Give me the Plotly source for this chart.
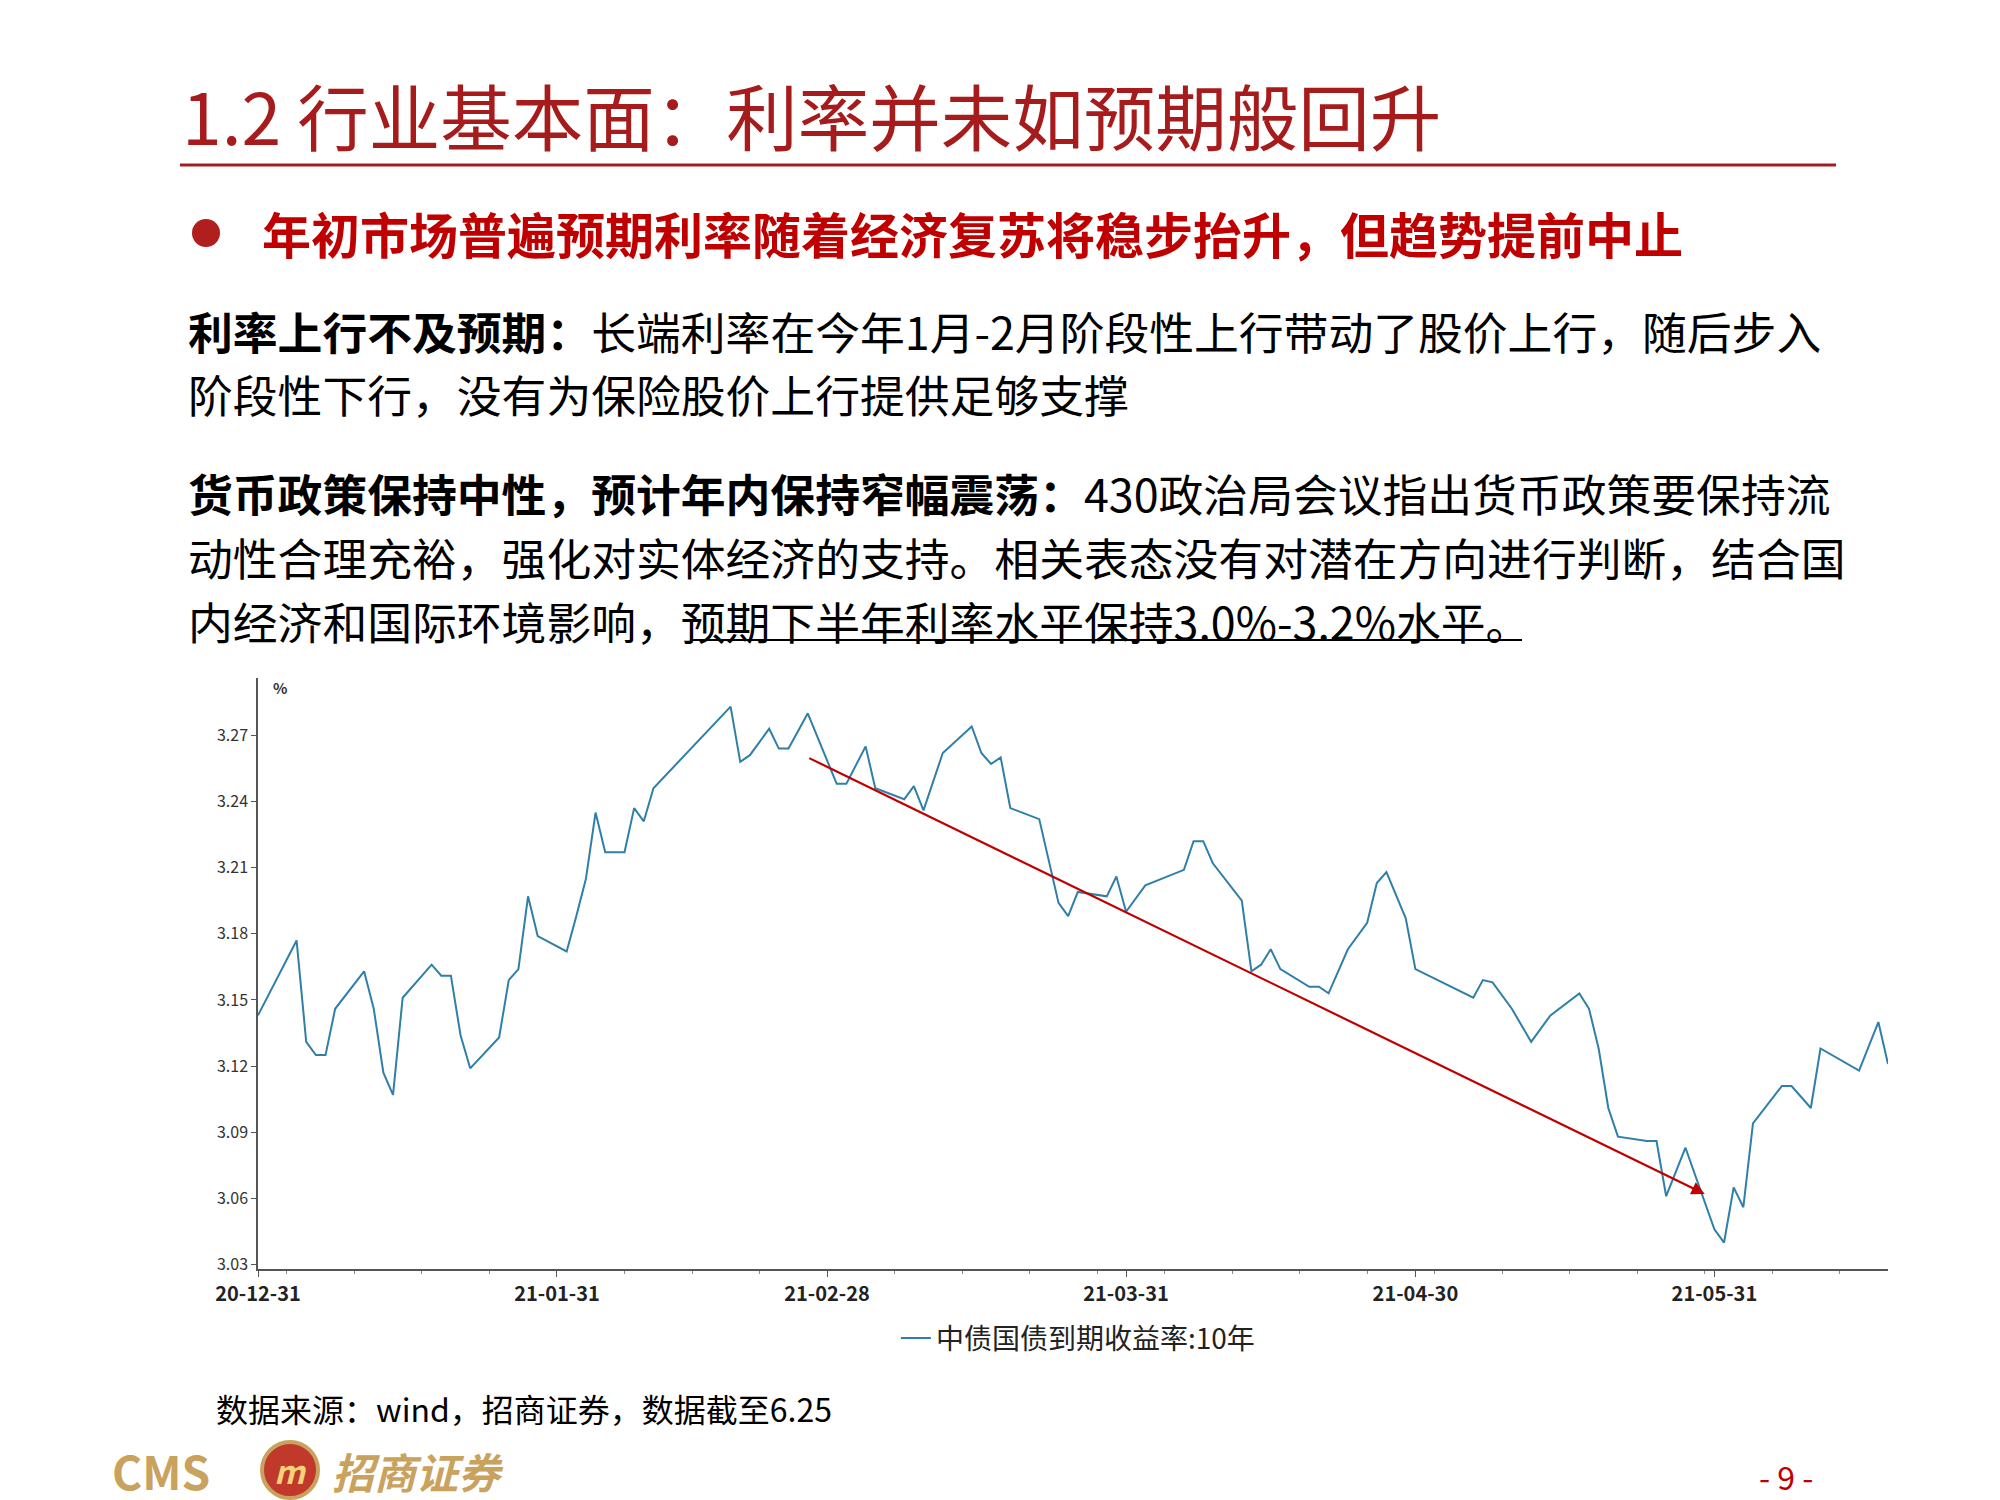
import plotly.graph_objects as go

dates = ["2020-12-31","2021-01-04","2021-01-05","2021-01-06","2021-01-07","2021-01-08","2021-01-11","2021-01-12",
"2021-01-13","2021-01-14","2021-01-15","2021-01-18","2021-01-19","2021-01-20","2021-01-21","2021-01-22","2021-01-25",
"2021-01-26","2021-01-27","2021-01-28","2021-01-29","2021-02-01","2021-02-02","2021-02-03","2021-02-04","2021-02-05",
"2021-02-07","2021-02-08","2021-02-09","2021-02-10","2021-02-18","2021-02-19","2021-02-20","2021-02-22","2021-02-23",
"2021-02-24","2021-02-25","2021-02-26","2021-03-01","2021-03-02","2021-03-04","2021-03-05","2021-03-08","2021-03-09",
"2021-03-10","2021-03-12","2021-03-15","2021-03-16","2021-03-17","2021-03-18","2021-03-19","2021-03-22","2021-03-24",
"2021-03-25","2021-03-26","2021-03-29","2021-03-30","2021-03-31","2021-04-02","2021-04-06","2021-04-07","2021-04-08",
"2021-04-09","2021-04-12","2021-04-13","2021-04-14","2021-04-15","2021-04-16","2021-04-19","2021-04-20","2021-04-21",
"2021-04-23","2021-04-25","2021-04-26","2021-04-27","2021-04-29","2021-04-30","2021-05-06","2021-05-07","2021-05-08",
"2021-05-10","2021-05-12","2021-05-14","2021-05-17","2021-05-18","2021-05-19","2021-05-20","2021-05-21","2021-05-24",
"2021-05-25","2021-05-26","2021-05-28","2021-05-31","2021-06-01","2021-06-02","2021-06-03","2021-06-04","2021-06-07",
"2021-06-08","2021-06-10","2021-06-11","2021-06-15","2021-06-17","2021-06-18"]
yields = [3.143,3.177,3.131,3.125,3.125,3.146,3.163,3.146,
3.117,3.107,3.151,3.166,3.161,3.161,3.134,3.119,3.133,
3.159,3.164,3.197,3.179,3.172,3.188,3.205,3.235,3.217,
3.217,3.237,3.231,3.246,3.283,3.258,3.261,3.273,3.264,
3.264,3.272,3.280,3.248,3.248,3.265,3.246,3.241,3.247,
3.236,3.262,3.274,3.262,3.257,3.260,3.237,3.232,3.194,
3.188,3.199,3.197,3.206,3.190,3.202,3.209,3.222,3.222,
3.212,3.195,3.163,3.166,3.173,3.164,3.156,3.156,3.153,
3.173,3.185,3.203,3.208,3.187,3.164,3.151,3.159,3.158,
3.146,3.131,3.143,3.153,3.146,3.128,3.101,3.088,3.086,
3.086,3.061,3.083,3.046,3.040,3.065,3.056,3.094,3.111,
3.111,3.101,3.128,3.118,3.140,3.121]
tick_dates = ["2020-12-31","2021-01-31","2021-02-28","2021-03-31","2021-04-30","2021-05-31"]
tick_labels = ["20-12-31","21-01-31","21-02-28","21-03-31","21-04-30","21-05-31"]
y_ticks = [3.03,3.06,3.09,3.12,3.15,3.18,3.21,3.24,3.27]
trend_start = ("2021-02-26", 3.260)
trend_end = ("2021-05-30", 3.062)
series_name = "中债国债到期收益率:10年"

W, H = 2000, 1500
L, R, T, B = 250, 1880, 670, 1261
FONT = "Noto Sans CJK SC"

def px(x, y):
    return (x - L) / (R - L), (B - y) / (B - T)

fig = go.Figure()
fig.add_trace(go.Scatter(x=dates, y=yields, mode="lines", name=series_name,
                         line=dict(color="#2F7FA8", width=2)))

fig.add_annotation(x=trend_end[0], y=trend_end[1], ax=trend_start[0], ay=trend_start[1],
                   xref="x", yref="y", axref="x", ayref="y", showarrow=True,
                   arrowhead=2, arrowsize=1.2, arrowwidth=2.2, arrowcolor="#C00000", text="")

anns = []
def txt(x, y, s, size, color="black", anchor="left"):
    px_, py_ = px(x, y)
    anns.append(dict(x=px_, y=py_, xref="paper", yref="paper", text=s, showarrow=False,
                     xanchor=anchor, yanchor="middle", font=dict(family=FONT, size=size, color=color)))

txt(172, 106, "1.2 行业基本面：利率并未如预期般回升", 71.5, "#A61C1C")
txt(252, 224, "<b>年初市场普遍预期利率随着经济复苏将稳步抬升，但趋势提前中止</b>", 49, "#C00000")
txt(178, 322, "<b>利率上行不及预期：</b>长端利率在今年1月-2月阶段性上行带动了股价上行，随后步入", 44.8)
txt(178, 385, "阶段性下行，没有为保险股价上行提供足够支撑", 44.8)
txt(178, 484, "<b>货币政策保持中性，预计年内保持窄幅震荡：</b>430政治局会议指出货币政策要保持流", 44.8)
txt(178, 548, "动性合理充裕，强化对实体经济的支持。相关表态没有对潜在方向进行判断，结合国", 44.8)
txt(178, 612, "内经济和国际环境影响，预期下半年利率水平保持3.0%-3.2%水平。", 44.8)
txt(263, 679, "<b>%</b>", 15, "#333")
txt(206, 1400, "数据来源：wind，招商证券，数据截至6.25", 32)
txt(102, 1462, "<b>CMS</b>", 46, "#C9A25E")
txt(322, 1462, "<b><i>招商证券</i></b>", 42, "#C9A25E")
txt(1778, 1468, "- 9 -", 32, "#C00000", "center")

shapes = []
def line(x0, y0, x1, y1, color, width):
    a, b = px(x0, y0); c, d = px(x1, y1)
    shapes.append(dict(type="line", xref="paper", yref="paper", x0=a, y0=b, x1=c, y1=d,
                       line=dict(color=color, width=width)))
line(172, 157, 1828, 157, "#A61C1C", 3)
line(682, 632, 1514, 632, "black", 2)
cx, cy = px(198, 225)
shapes.append(dict(type="circle", xref="paper", yref="paper",
                   x0=cx - 14/(R-L), x1=cx + 14/(R-L), y0=cy - 14/(B-T), y1=cy + 14/(B-T),
                   fillcolor="#B01E1E", line=dict(width=0)))
ex, ey = px(282, 1462)
shapes.append(dict(type="circle", xref="paper", yref="paper",
                   x0=ex - 28/(R-L), x1=ex + 28/(R-L), y0=ey - 28/(B-T), y1=ey + 28/(B-T),
                   fillcolor="#C0392B", line=dict(color="#C9A25E", width=4)))
txt(282, 1462, "<b><i>m</i></b>", 32, "#F2D27A", "center")

fig.update_layout(
    width=W, height=H, paper_bgcolor="white", plot_bgcolor="white",
    margin=dict(l=L, r=W - R, t=T, b=H - B),
    font=dict(family=FONT),
    showlegend=True,
    legend=dict(orientation="h", x=0.503, xanchor="center", y=-0.075, yanchor="top",
                font=dict(family=FONT, size=28, color="#222")),
    annotations=list(fig.layout.annotations) + anns,
    shapes=shapes,
    xaxis=dict(range=["2020-12-31", "2021-06-18"], tickvals=tick_dates, ticktext=["<b>%s</b>" % t for t in tick_labels],
               showgrid=False, showline=True, linecolor="#555", linewidth=1.5, ticks="outside",
               ticklen=6, tickcolor="#555", tickfont=dict(size=20, color="#222"),
               minor=dict(ticks="outside", ticklen=3, dtick=7*86400000, tickcolor="#888")),
    yaxis=dict(range=[3.028, 3.296], tickvals=y_ticks, ticktext=["%.2f" % v for v in y_ticks],
               showgrid=False, showline=True, linecolor="#555", linewidth=1.5, ticks="outside",
               ticklen=5, tickcolor="#555", tickfont=dict(size=16, color="#333"), zeroline=False),
)
fig.write_html("out.html")
